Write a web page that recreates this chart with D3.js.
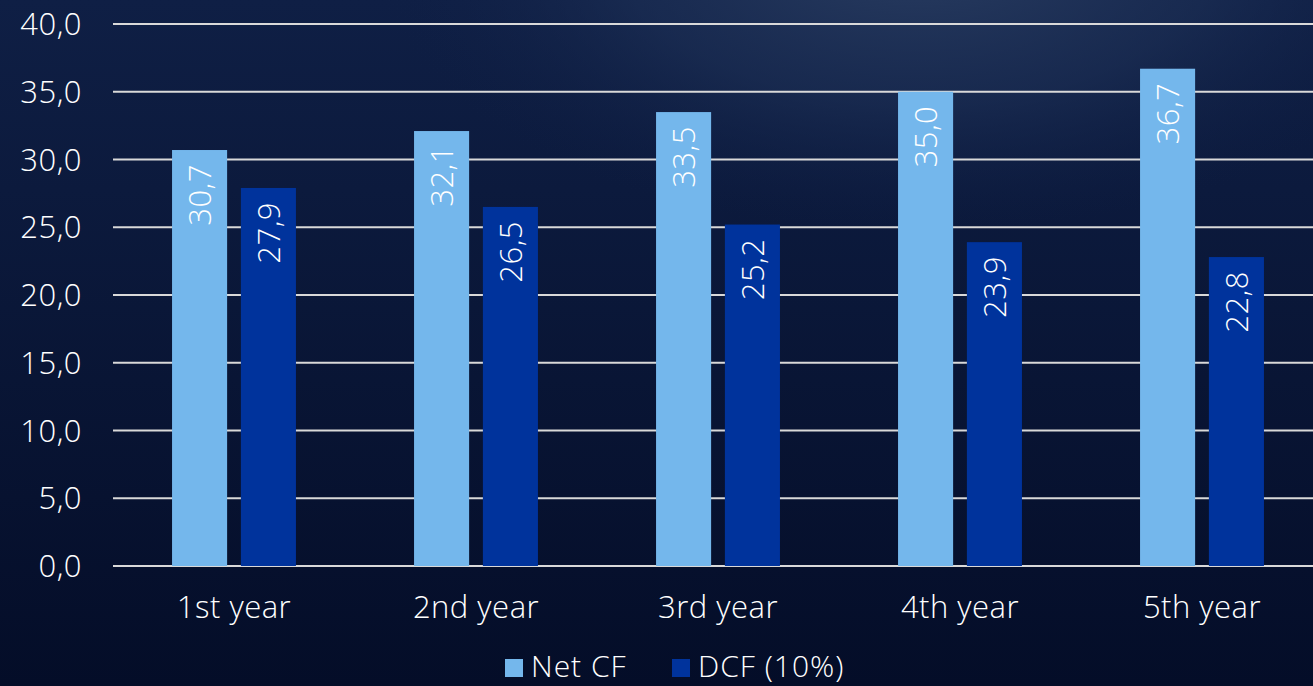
<!DOCTYPE html>
<html>
<head>
<meta charset="utf-8">
<script src="https://cdn.jsdelivr.net/npm/d3@7"></script>
<style>
  body { margin: 0; background: #08132f; overflow: hidden; }
  text { font-family: "Open Sans", sans-serif; font-weight: 300; fill: #fff; }
</style>
</head>
<body>
<script>
var width = 1313,
    height = 686;

var categories = ["1st year", "2nd year", "3rd year", "4th year", "5th year"];
var netCF = [30.7, 32.1, 33.5, 35.0, 36.7];
var dcf = [27.9, 26.5, 25.2, 23.9, 22.8];
var seriesNames = ["Net CF", "DCF (10%)"];
var seriesColors = ["#74b7ec", "#00339c"];
var yTicks = [0, 5, 10, 15, 20, 25, 30, 35, 40];

var fmt = function(v) {
    return d3.format(".1f")(v).replace(".", ",");
};

var svg = d3.select("body").append("svg")
    .attr("width", width)
    .attr("height", height);

// background: dark navy with a soft glow near the top
var defs = svg.append("defs");
var lin = defs.append("linearGradient").attr("id", "bg")
    .attr("x1", 0).attr("y1", 0).attr("x2", 0).attr("y2", 1);
lin.append("stop").attr("offset", "0%").attr("stop-color", "#0f1f45");
lin.append("stop").attr("offset", "100%").attr("stop-color", "#040d28");
var rad = defs.append("radialGradient").attr("id", "glow")
    .attr("cx", 0.7).attr("cy", -0.08).attr("r", 0.42);
rad.append("stop").attr("offset", "0%").attr("stop-color", "#2c4064").attr("stop-opacity", 0.95);
rad.append("stop").attr("offset", "55%").attr("stop-color", "#1e3157").attr("stop-opacity", 0.6);
rad.append("stop").attr("offset", "100%").attr("stop-color", "#0f1f45").attr("stop-opacity", 0);

svg.append("rect").attr("width", width).attr("height", height).attr("fill", "url(#bg)");
svg.append("rect").attr("width", width).attr("height", height).attr("fill", "url(#glow)");

var x0 = d3.scaleBand()
    .domain(categories)
    .range([113, 1323])
    .paddingInner(0.488)
    .paddingOuter(0.244);

var x1 = d3.scaleBand()
    .domain(seriesNames)
    .range([0, x0.bandwidth()])
    .paddingInner(0.2);

var y = d3.scaleLinear()
    .domain([0, 40])
    .range([566, 24]);

// gridlines
svg.append("g")
    .selectAll("line")
    .data(yTicks)
    .enter().append("line")
    .attr("x1", 113)
    .attr("x2", width)
    .attr("y1", function(d) { return y(d); })
    .attr("y2", function(d) { return y(d); })
    .style("stroke", "#d9d9d9")
    .style("stroke-width", 2);

// y labels
svg.append("g")
    .selectAll("text")
    .data(yTicks)
    .enter().append("text")
    .attr("x", 82)
    .attr("y", function(d) { return y(d); })
    .attr("dy", "0.36em")
    .attr("text-anchor", "end")
    .style("font-size", "31px")
    .style("letter-spacing", "0.5px")
    .text(fmt);

var rows = categories.map(function(c, i) {
    return { cat: c, vals: [netCF[i], dcf[i]] };
});

var groups = svg.append("g")
    .selectAll("g")
    .data(rows)
    .enter().append("g")
    .attr("transform", function(d) { return "translate(" + x0(d.cat) + ",0)"; });

var bars = groups.selectAll("g")
    .data(function(d) {
        return d.vals.map(function(v, j) { return { name: seriesNames[j], v: v, j: j }; });
    })
    .enter().append("g");

bars.append("rect")
    .attr("x", function(d) { return x1(d.name); })
    .attr("y", function(d) { return y(d.v); })
    .attr("width", x1.bandwidth())
    .attr("height", function(d) { return y(0) - y(d.v); })
    .style("fill", function(d) { return seriesColors[d.j]; });

bars.append("text")
    .attr("transform", function(d) {
        return "translate(" + (x1(d.name) + x1.bandwidth() / 2) + "," + (y(d.v) + 14) + ") rotate(-90)";
    })
    .attr("text-anchor", "end")
    .attr("dy", "0.36em")
    .style("font-size", "31px")
    .style("letter-spacing", "0.5px")
    .text(function(d) { return fmt(d.v); });

// category labels
svg.append("g")
    .selectAll("text")
    .data(categories)
    .enter().append("text")
    .attr("x", function(d) { return x0(d) + x0.bandwidth() / 2; })
    .attr("y", 618)
    .attr("text-anchor", "middle")
    .style("font-size", "31px")
    .style("letter-spacing", "0.5px")
    .text(function(d) { return d; });

// legend
var legend = svg.append("g");
var legendX = [505, 672];
seriesNames.forEach(function(name, i) {
    legend.append("rect")
        .attr("x", legendX[i])
        .attr("y", 659)
        .attr("width", 18)
        .attr("height", 18)
        .style("fill", seriesColors[i]);
    legend.append("text")
        .attr("x", legendX[i] + 26)
        .attr("y", 677)
        .style("font-size", "30px")
        .style("letter-spacing", "1px")
        .text(name);
});
</script>
</body>
</html>
